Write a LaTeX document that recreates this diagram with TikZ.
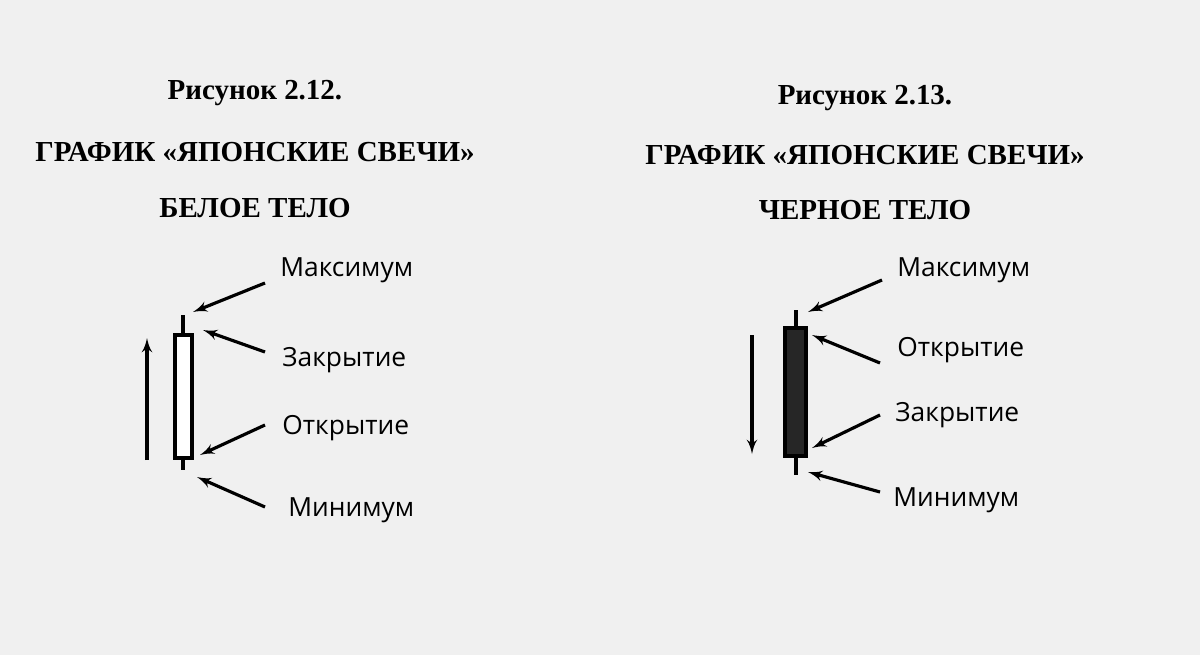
\documentclass[tikz,border=0pt]{standalone}
\usepackage{fontspec}
\setmainfont{Liberation Serif}
\setsansfont{Open Sans}
\usetikzlibrary{arrows,positioning}
\tikzstyle{title} = [font=\fontsize{16.5}{19}\selectfont\bfseries, inner sep=0pt]
\tikzstyle{label} = [font=\sffamily\fontsize{15}{18}\selectfont, anchor=west, inner sep=0pt]
\tikzstyle{line} = [draw, line width=1.8pt, -latex']
\tikzstyle{wick} = [draw, line width=2pt]
\begin{document}
\begin{tikzpicture}[x=0.02cm, y=-0.02cm]
        \fill[gray!12] (0,0) rectangle (1200,655);
        \useasboundingbox (0,0) rectangle (1200,655);
        % Titles
        \node [title] (fig1) at (255,93) {Рисунок 2.12.};
        \node [title] (chart1) at (255,152) {ГРАФИК «ЯПОНСКИЕ СВЕЧИ»};
        \node [title] (body1) at (255,208) {БЕЛОЕ ТЕЛО};
        \node [title] (fig2) at (865,98) {Рисунок 2.13.};
        \node [title] (chart2) at (865,155) {ГРАФИК «ЯПОНСКИЕ СВЕЧИ»};
        \node [title] (body2) at (865,210) {ЧЕРНОЕ ТЕЛО};
        % White candle
        \path [wick] (183,315) -- (183,470);
        \path [wick, fill=white] (175,335) rectangle (192,458);
        \path [line] (147,460) -- (147,338);
        \node [label] (max1) at (280,270) {Максимум};
        \node [label] (close1) at (282,360) {Закрытие};
        \node [label] (open1) at (282,428) {Открытие};
        \node [label] (min1) at (288,510) {Минимум};
        \coordinate (max1end) at (193,312);
        \coordinate (close1end) at (203,330);
        \coordinate (open1end) at (200,455);
        \coordinate (min1end) at (197,477);
        \path [line] (265,283) -- (max1end);
        \path [line] (265,352) -- (close1end);
        \path [line] (265,425) -- (open1end);
        \path [line] (265,507) -- (min1end);
        % Black candle
        \path [wick] (796,310) -- (796,475);
        \path [wick, fill=black!85] (785,328) rectangle (806,456);
        \path [line] (752,335) -- (752,454);
        \node [label] (max2) at (897,270) {Максимум};
        \node [label] (open2) at (897,350) {Открытие};
        \node [label] (close2) at (895,415) {Закрытие};
        \node [label] (min2) at (893,500) {Минимум};
        \coordinate (max2end) at (808,312);
        \coordinate (open2end) at (812,335);
        \coordinate (close2end) at (812,448);
        \coordinate (min2end) at (808,472);
        \path [line] (882,280) -- (max2end);
        \path [line] (880,363) -- (open2end);
        \path [line] (880,415) -- (close2end);
        \path [line] (880,492) -- (min2end);
    \end{tikzpicture}
\end{document}
